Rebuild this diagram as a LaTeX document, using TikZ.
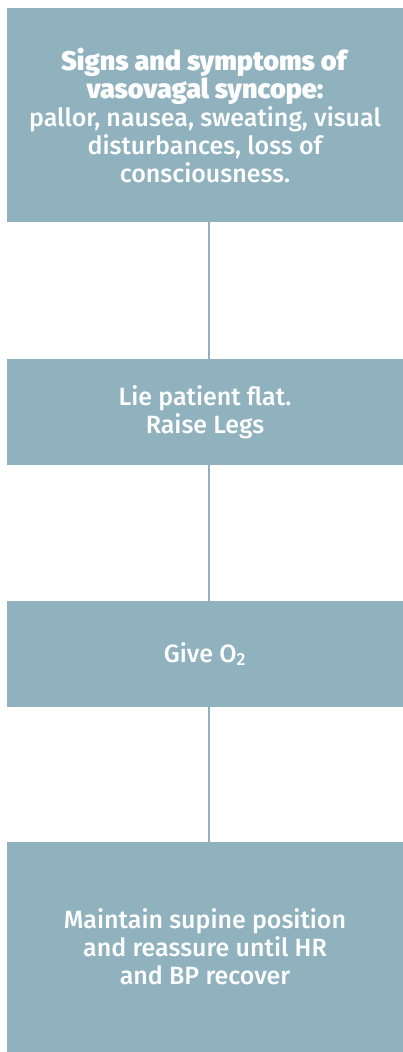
\documentclass[tikz,border=0pt]{standalone}
\usepackage{fontspec}
\setmainfont{Fira Sans Medium}[BoldFont={Fira Sans Black}]
\definecolor{boxblue}{HTML}{8FB2BE}
\newcommand{\headline}[1]{{\fontsize{27}{28}\selectfont\textbf{#1}}}
\begin{document}
\begin{tikzpicture}[x=1pt,y=-1pt,
  stepbox/.style={fill=boxblue, draw=none, text=white, align=center,
    minimum width=396pt, inner sep=0pt,
    font=\fontsize{25}{28}\selectfont},
  link/.style={draw=boxblue, line width=2pt}]
  \useasboundingbox (0,0) rectangle (403,1052);
  \node[stepbox, minimum height=214pt] (signs) at (205,115)
    {\headline{Signs and symptoms of}\\ \headline{vasovagal syncope:}\\
     pallor, nausea, sweating, visual\\ disturbances, loss of\\ consciousness.};
  \node[stepbox, minimum height=106pt] (flat) at (205,412)
    {Lie patient flat.\\ Raise Legs};
  \node[stepbox, minimum height=106pt] (oxygen) at (205,654)
    {Give O\textsubscript{2}};
  \node[stepbox, minimum height=210pt] (supine) at (205,947)
    {Maintain supine position\\ and reassure until HR\\ and BP recover};
  \draw[link] ([xshift=3.7pt]signs.south) -- ([xshift=3.7pt]flat.north);
  \draw[link] ([xshift=3.7pt]flat.south) -- ([xshift=3.7pt]oxygen.north);
  \draw[link] ([xshift=3.7pt]oxygen.south) -- ([xshift=3.7pt]supine.north);
\end{tikzpicture}
\end{document}
